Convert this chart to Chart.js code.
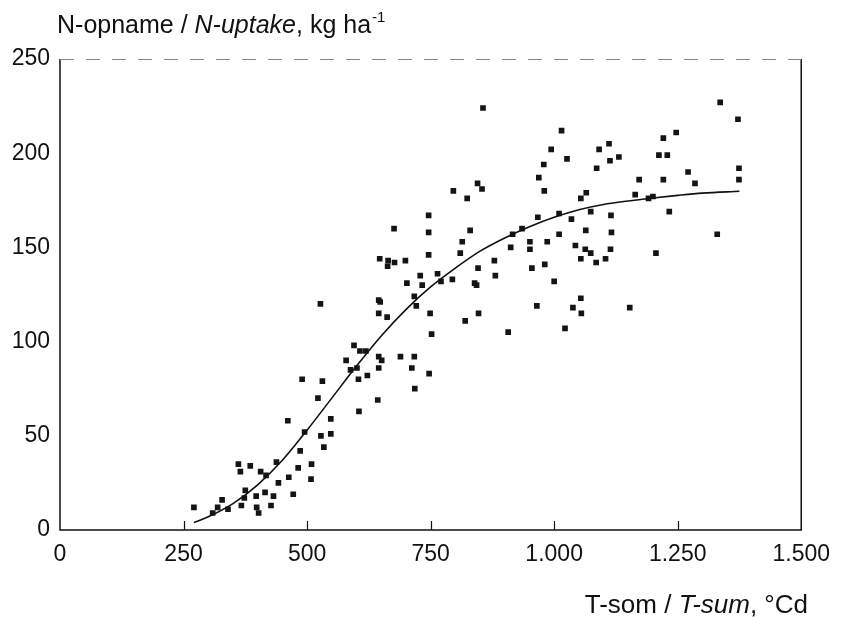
<!DOCTYPE html>
<html>
<head>
<meta charset="utf-8">
<script src="https://cdn.jsdelivr.net/npm/chart.js@4/dist/chart.umd.min.js"></script>
<style>
  html, body { margin: 0; padding: 0; background: #fff; }
  #wrap { width: 841px; height: 617px; }
</style>
</head>
<body>
<div id="wrap"><canvas id="c" width="841" height="617"></canvas></div>
<script>
// ---- data ----
const tSum = [271,309,319,328,340,361,365,385,406,367,375,373,397,398,402,415,417,427,432,438,442,463,472,461,482,486,495,508,509,528,534,548,548,527,645,645,662,721,749,820,752,595,607,619,579,588,601,645,651,689,717,712,747,645,490,531,604,622,522,718,643,605,824,746,676,746,830,814,647,664,663,677,699,746,810,729,764,794,771,702,733,839,843,648,717,856,1015,994,1026,979,969,980,1065,1054,845,854,796,1172,1164,967,1010,1035,1074,1115,935,912,951,951,986,1010,1064,1116,1043,1063,1074,1114,1054,1085,1104,879,846,881,955,981,1000,1054,965,1038,1055,1153,847,907,1022,916,1336,1372,1247,1221,1111,1091,1113,1131,1212,1229,1086,1221,1271,1285,1374,1374,1191,1200,1233,1206,1330];
const nUptake = [12,9,12,16,11,35,31,34,31,13,21,17,18,12,9,20,29,13,18,36,25,28,19,58,33,42,52,27,35,50,44,51,59,120,122,115,113,119,115,111,104,98,95,95,90,85,86,92,90,92,92,86,83,86,80,79,80,82,70,75,69,63,176,167,160,158,159,153,144,143,140,142,143,146,147,135,136,133,132,131,130,131,130,121,124,224,212,202,197,194,187,180,179,176,184,181,180,186,178,166,168,165,169,167,160,150,153,149,153,157,159,158,151,149,147,149,144,142,144,143,139,135,139,141,132,123,119,118,115,118,115,105,107,157,227,218,211,208,205,202,196,198,199,199,192,186,190,184,192,186,176,177,169,147,157];
const curveT = [271,300,350,400,450,500,550,600,650,700,750,800,850,900,950,1000,1050,1100,1150,1200,1250,1300,1375];
const curveN = [4,7,14,24,37,53,70,87,103,117,129,139,148,155,161,166,170,172.8,174.6,176.2,177.6,178.8,179.8];
const xTickValues = [0,250,500,750,1000,1250,1500];
const xTickLabels = ['0','250','500','750','1.000','1.250','1.500'];
const yTickValues = [0,50,100,150,200,250];
const yTickLabels = ['0','50','100','150','200','250'];
const yTitleParts = [['N-opname / ', 'normal'], ['N-uptake', 'italic'], [', kg ha', 'normal']];
const yTitleSup = '-1';
const xTitleParts = [['T-som / ', 'normal'], ['T-sum', 'italic'], [', °Cd', 'normal']];

const FONT = '"Liberation Sans", Arial, Helvetica, sans-serif';

const frameAndTitles = {
  id: 'frameAndTitles',
  afterDraw(chart) {
    const ctx = chart.ctx;
    const a = chart.chartArea;
    const xs = chart.scales.x;
    ctx.save();
    // frame
    ctx.strokeStyle = '#111';
    ctx.lineWidth = 1.5;
    ctx.beginPath();
    ctx.moveTo(a.left, a.top);
    ctx.lineTo(a.left, a.bottom);
    ctx.lineTo(a.right, a.bottom);
    ctx.lineTo(a.right, a.top);
    ctx.stroke();
    ctx.strokeStyle = '#888';
    ctx.lineWidth = 1;
    ctx.setLineDash([14, 12]);
    ctx.beginPath();
    ctx.moveTo(a.left, a.top + 0.5);
    ctx.lineTo(a.right, a.top + 0.5);
    ctx.stroke();
    ctx.setLineDash([]);
    // inward tick marks on x axis
    ctx.strokeStyle = '#111';
    ctx.lineWidth = 1.2;
    xTickValues.forEach(v => {
      if (v === 0 || v === 1500) return;
      const px = Math.round(xs.getPixelForValue(v)) + 0.5;
      ctx.beginPath();
      ctx.moveTo(px, a.bottom);
      ctx.lineTo(px, a.bottom - 9);
      ctx.stroke();
    });
    // titles
    ctx.fillStyle = '#111';
    ctx.textBaseline = 'alphabetic';
    ctx.textAlign = 'left';
    let x = 57;
    const yBase = 33;
    yTitleParts.forEach(([t, st]) => {
      ctx.font = st + ' 25px ' + FONT;
      ctx.fillText(t, x, yBase);
      x += ctx.measureText(t).width;
    });
    ctx.font = 'normal 15px ' + FONT;
    ctx.fillText(yTitleSup, x + 1, yBase - 11);
    // x title right aligned
    let total = 0;
    xTitleParts.forEach(([t, st]) => {
      ctx.font = st + ' 26px ' + FONT;
      total += ctx.measureText(t).width;
    });
    x = 808 - total;
    const xBase = 613;
    xTitleParts.forEach(([t, st]) => {
      ctx.font = st + ' 26px ' + FONT;
      ctx.fillText(t, x, xBase);
      x += ctx.measureText(t).width;
    });
    ctx.restore();
  }
};

new Chart(document.getElementById('c'), {
  type: 'scatter',
  data: {
    datasets: [
      {
        label: 'Waarnemingen',
        data: tSum.map((t, i) => ({ x: t, y: nUptake[i] })),
        pointStyle: 'rect',
        pointRadius: 4,
        pointHoverRadius: 4,
        backgroundColor: '#141414',
        borderColor: '#141414',
        borderWidth: 0,
        showLine: false,
        order: 2
      },
      {
        label: 'Curve',
        data: curveT.map((t, i) => ({ x: t, y: curveN[i] })),
        showLine: true,
        pointRadius: 0,
        borderColor: '#111',
        borderWidth: 1.6,
        tension: 0.4,
        cubicInterpolationMode: 'monotone',
        fill: false,
        order: 1
      }
    ]
  },
  options: {
    responsive: false,
    animation: false,
    devicePixelRatio: 1,
    layout: { padding: { left: 0, right: 35, top: 59, bottom: 0 } },
    plugins: { legend: { display: false }, tooltip: { enabled: false }, title: { display: false } },
    scales: {
      x: {
        type: 'linear',
        min: 0, max: 1500,
        afterBuildTicks: s => { s.ticks = xTickValues.map(v => ({ value: v })); },
        afterFit: s => { s.height = 87; },
        grid: { display: false, drawTicks: false },
        border: { display: false },
        ticks: {
          color: '#111',
          font: { family: FONT, size: 23 },
          padding: 11,
          maxRotation: 0,
          autoSkip: false,
          callback: v => xTickLabels[xTickValues.indexOf(v)]
        }
      },
      y: {
        type: 'linear',
        min: 0, max: 250,
        afterBuildTicks: s => { s.ticks = yTickValues.map(v => ({ value: v })); },
        afterFit: s => { s.width = 60; },
        grid: { display: false, drawTicks: false },
        border: { display: false },
        ticks: {
          color: '#111',
          font: { family: FONT, size: 23 },
          padding: 10,
          autoSkip: false,
          callback: v => yTickLabels[yTickValues.indexOf(v)]
        }
      }
    }
  },
  plugins: [frameAndTitles]
});
</script>
</body>
</html>
